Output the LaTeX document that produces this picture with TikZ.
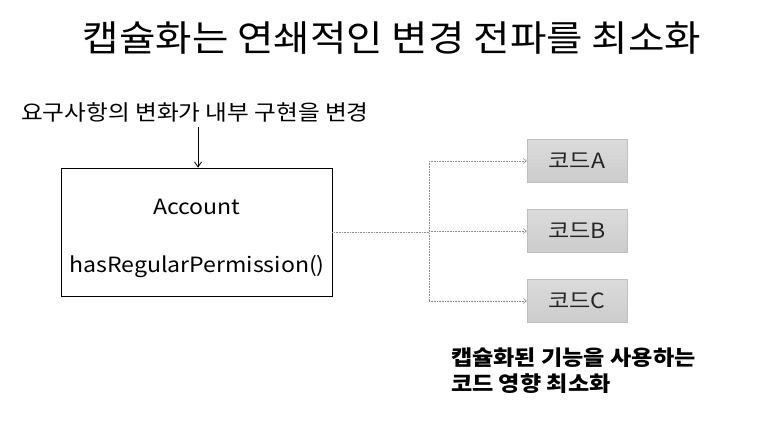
\documentclass[tikz,border=0pt]{standalone}
\usepackage{fontspec}
\setmainfont{Noto Sans CJK KR}[FakeStretch=1.1]
\usetikzlibrary{arrows.meta}
\begin{document}
\begin{tikzpicture}[x=1pt,y=-1pt,
  codebox/.style={draw=black!25, top color=black!14, bottom color=black!20, minimum width=100pt, minimum height=43pt, inner sep=0pt, font=\fontsize{21}{24}\selectfont, text=black!85},
  dotline/.style={densely dotted, draw=black!45, line width=0.6pt},
  dotarrow/.style={dotline, -{Straight Barb[length=3pt,width=5pt]}}]
\useasboundingbox (0,0) rectangle (770,429);
\node[font=\fontsize{36}{40}\selectfont] (title) at (392,38) {캡슐화는 연쇄적인 변경 전파를 최소화};
\node[font=\fontsize{21.5}{24}\selectfont, anchor=west, inner sep=0pt] (req) at (21,112) {요구사항의 변화가 내부 구현을 변경};
\node[draw=black, line width=0.8pt, minimum width=271pt, minimum height=128pt, inner sep=0pt] (acc) at (196.5,232) {};
\node[font=\fontsize{21}{24}\selectfont] (accname) at (197,207) {Account};
\node[font=\fontsize{21}{24}\selectfont] (method) at (197,267) {hasRegularPermission()};
\coordinate (reqbot) at (198,127);
\draw[-{Straight Barb[length=5pt,width=7pt]}, line width=0.8pt] (reqbot) -- (acc.north -| reqbot);
\node[codebox] (ca) at (577,161) {코드A};
\node[codebox] (cb) at (577,231) {코드B};
\node[codebox] (cc) at (577,301) {코드C};
\coordinate (split) at (429,232);
\draw[dotline] (acc.east |- split) -- (split);
\draw[dotline] (429,161) -- (429,301);
\draw[dotarrow] (429,161) -- (ca.west);
\draw[dotarrow] (429,231) -- (cb.west);
\draw[dotarrow] (429,301) -- (cc.west);
\node[font=\fontsize{21}{26}\selectfont\bfseries, anchor=north west, align=left, inner sep=0pt] (note) at (451,348) {캡슐화된 기능을 사용하는\\코드 영향 최소화};
\end{tikzpicture}
\end{document}
